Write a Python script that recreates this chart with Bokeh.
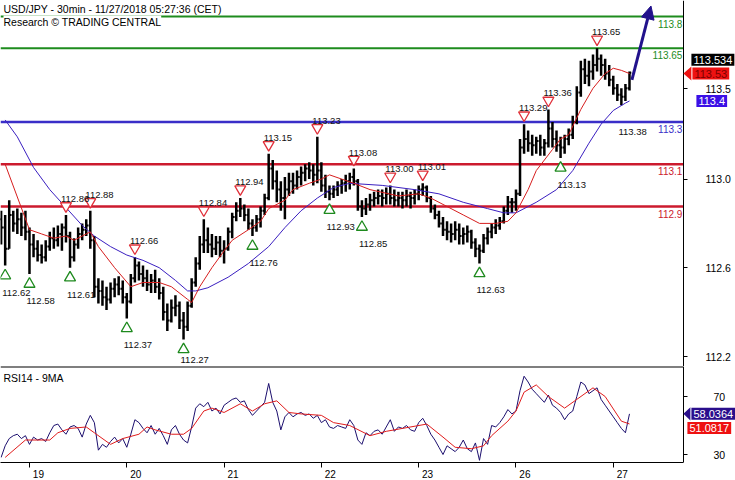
from bokeh.plotting import figure
from bokeh.models import (Range1d, FixedTicker, Label, Arrow, NormalHead, LinearAxis,
                          PolyAnnotation, ColumnDataSource, NumeralTickFormatter)
from bokeh.layouts import column
from bokeh.embed import file_html
from bokeh.resources import INLINE
from bokeh.core.properties import value

# ---------------- data (hourly bars, index 0 = Fri 16 Nov 17:00) ----------------
day_idx = [7, 31, 55, 79, 103, 127, 151]
day_labels = ["19", "20", "21", "22", "23", "26", "27"]

first_open = 112.84
high = [
    112.88, 112.86, 112.93, 112.88, 112.89, 112.87, 112.88, 112.80, 112.77, 112.74,
    112.72, 112.74, 112.78, 112.80, 112.81, 112.82, 112.86, 112.78, 112.75, 112.80,
    112.82, 112.84, 112.88, 112.76, 112.56, 112.55, 112.52, 112.54, 112.56, 112.57,
    112.55, 112.49, 112.58, 112.66, 112.64, 112.62, 112.60, 112.58, 112.60, 112.56,
    112.52, 112.44, 112.46, 112.48, 112.45, 112.40, 112.45, 112.56, 112.66, 112.76,
    112.84, 112.80, 112.77, 112.76, 112.76, 112.74, 112.80, 112.87, 112.92, 112.94,
    112.91, 112.89, 112.84, 112.86, 112.90, 112.96, 113.15, 113.12, 113.07, 113.02,
    113.04, 113.06, 113.06, 113.07, 113.09, 113.10, 113.11, 113.10, 113.23, 113.11,
    113.05, 113.00, 113.00, 113.02, 113.03, 113.05, 113.06, 113.08, 113.03, 112.93,
    112.94, 112.96, 112.97, 112.98, 112.98, 112.99, 113.00, 112.98, 112.97, 112.97,
    112.98, 112.97, 112.98, 113.00, 113.01, 113.00, 112.95, 112.91, 112.88, 112.85,
    112.83, 112.82, 112.83, 112.82, 112.80, 112.81, 112.79, 112.75, 112.72, 112.77,
    112.80, 112.82, 112.84, 112.85, 112.90, 112.95, 112.94, 112.98, 113.22, 113.29,
    113.26, 113.24, 113.23, 113.24, 113.22, 113.36, 113.30, 113.26, 113.23, 113.24,
    113.27, 113.33, 113.47, 113.59, 113.60, 113.59, 113.62, 113.65, 113.62, 113.60,
    113.57, 113.52, 113.48, 113.46, 113.48, 113.54]
low = [
    112.72, 112.62, 112.70, 112.78, 112.77, 112.76, 112.74, 112.58, 112.66, 112.64,
    112.63, 112.64, 112.69, 112.70, 112.71, 112.69, 112.73, 112.61, 112.64, 112.70,
    112.74, 112.76, 112.70, 112.47, 112.44, 112.43, 112.41, 112.44, 112.47, 112.48,
    112.44, 112.37, 112.44, 112.54, 112.55, 112.52, 112.50, 112.49, 112.49, 112.46,
    112.36, 112.31, 112.35, 112.38, 112.32, 112.27, 112.31, 112.42, 112.52, 112.60,
    112.68, 112.68, 112.66, 112.67, 112.66, 112.63, 112.69, 112.75, 112.83, 112.85,
    112.83, 112.79, 112.76, 112.78, 112.80, 112.86, 112.93, 112.98, 112.92, 112.88,
    112.84, 112.95, 112.96, 112.98, 113.00, 113.02, 113.03, 113.00, 113.01, 112.97,
    112.94, 112.93, 112.94, 112.95, 112.96, 112.97, 112.98, 113.00, 112.88, 112.85,
    112.86, 112.88, 112.90, 112.91, 112.90, 112.91, 112.91, 112.90, 112.90, 112.89,
    112.90, 112.89, 112.91, 112.93, 112.95, 112.92, 112.87, 112.84, 112.80, 112.76,
    112.74, 112.73, 112.74, 112.72, 112.72, 112.73, 112.70, 112.66, 112.63, 112.68,
    112.72, 112.75, 112.77, 112.79, 112.82, 112.86, 112.87, 112.88, 112.95, 113.15,
    113.16, 113.14, 113.15, 113.14, 113.14, 113.18, 113.18, 113.16, 113.13, 113.15,
    113.19, 113.22, 113.29, 113.42, 113.48, 113.47, 113.50, 113.54, 113.52, 113.50,
    113.47, 113.43, 113.40, 113.38, 113.40, 113.45]
close = [
    112.80, 112.70, 112.86, 112.82, 112.84, 112.80, 112.78, 112.72, 112.70, 112.67,
    112.66, 112.71, 112.75, 112.74, 112.77, 112.80, 112.76, 112.66, 112.72, 112.77,
    112.79, 112.81, 112.74, 112.52, 112.50, 112.47, 112.46, 112.51, 112.53, 112.51,
    112.47, 112.45, 112.56, 112.62, 112.58, 112.56, 112.53, 112.55, 112.52, 112.49,
    112.40, 112.36, 112.42, 112.43, 112.36, 112.33, 112.43, 112.54, 112.63, 112.72,
    112.74, 112.72, 112.70, 112.73, 112.69, 112.70, 112.78, 112.85, 112.88, 112.89,
    112.86, 112.82, 112.80, 112.84, 112.88, 112.94, 113.08, 113.02, 112.98, 112.94,
    112.98, 113.02, 113.00, 113.04, 113.06, 113.08, 113.07, 113.05, 113.07, 113.00,
    112.97, 112.96, 112.98, 113.00, 113.01, 113.02, 113.04, 113.02, 112.90, 112.89,
    112.91, 112.93, 112.94, 112.95, 112.94, 112.96, 112.94, 112.93, 112.94, 112.93,
    112.95, 112.94, 112.96, 112.98, 112.99, 112.94, 112.89, 112.86, 112.82, 112.79,
    112.78, 112.77, 112.79, 112.76, 112.77, 112.78, 112.73, 112.70, 112.69, 112.75,
    112.78, 112.80, 112.81, 112.83, 112.88, 112.92, 112.92, 112.96, 113.18, 113.22,
    113.20, 113.19, 113.21, 113.18, 113.20, 113.27, 113.22, 113.19, 113.18, 113.22,
    113.24, 113.30, 113.44, 113.55, 113.52, 113.54, 113.57, 113.60, 113.57, 113.53,
    113.50, 113.46, 113.43, 113.42, 113.46, 113.534]

# moving averages (index, value)
ma_fast_idx = [1, 7, 10, 13, 16, 18, 22, 24, 28, 32, 35, 39, 42, 46, 47, 49, 52, 55, 57, 61,
               64, 66, 70, 72, 76, 79, 81, 87, 91, 98, 103, 106, 110, 114, 118, 122, 125, 127,
               130, 132, 136, 138, 140, 143, 146, 149, 151, 153, 155]
ma_fast_val = [113.10, 112.79, 112.77, 112.75, 112.76, 112.74, 112.78, 112.71, 112.61, 112.52,
               112.54, 112.54, 112.52, 112.46, 112.445, 112.52, 112.61, 112.69, 112.74, 112.79,
               112.83, 112.89, 112.93, 112.98, 113.01, 113.03, 113.05, 113.01, 112.98, 112.95,
               112.96, 112.94, 112.90, 112.86, 112.82, 112.82, 112.83, 112.87, 112.98, 113.07,
               113.17, 113.22, 113.24, 113.36, 113.46, 113.53, 113.555, 113.545, 113.53]
ma_slow_idx = [1, 4, 8, 12, 16, 20, 23, 27, 31, 35, 39, 43, 46, 48, 51, 56, 61, 66, 70, 74,
               78, 82, 86, 94, 102, 108, 114, 120, 124, 127, 132, 137, 141, 145, 148, 151, 154, 155]
ma_slow_val = [113.31, 113.23, 113.085, 112.98, 112.895, 112.81, 112.76, 112.71, 112.67, 112.645,
               112.61, 112.55, 112.50, 112.50, 112.515, 112.565, 112.63, 112.71, 112.80, 112.88,
               112.94, 112.99, 113.01, 113.00, 112.98, 112.96, 112.92, 112.89, 112.87, 112.87,
               112.92, 112.98, 113.07, 113.20, 113.29, 113.355, 113.39, 113.40]

rsi = [
    28, 36, 41, 43, 44, 41, 43, 37, 42, 40,
    41, 39, 45, 50, 51, 47, 44, 49, 50, 48,
    42, 51, 57, 52, 33, 37, 35, 39, 42, 38,
    41, 35, 44, 54, 52, 48, 45, 50, 44, 48,
    43, 37, 47, 50, 44, 40, 38, 49, 62, 65,
    63, 66, 60, 62, 58, 64, 66, 68, 69, 66,
    67, 61, 57, 60, 63, 66, 79, 66, 60, 47,
    56, 59, 56, 58, 59, 57, 58, 55, 57, 52,
    54, 49, 48, 50, 49, 48, 54, 50, 40, 37,
    45, 43, 46, 47, 44, 49, 54, 46, 49, 48,
    50, 47, 46, 52, 55, 50, 44, 40, 35, 30,
    36, 34, 32, 35, 40, 34, 32, 38, 26, 41,
    37, 50, 49, 52, 56, 61, 58, 60, 74, 84,
    80, 75, 72, 69, 66, 71, 64, 62, 59, 54,
    58, 60, 70, 80, 78, 72, 74, 76, 68, 64,
    60, 56, 52, 48, 45, 58.0364]
rsi_ma_idx = [1, 6, 12, 14, 17, 21, 23, 27, 30, 34, 36, 38, 42, 45, 47, 50, 52, 55, 59, 62,
              65, 68, 71, 74, 79, 82, 86, 91, 95, 99, 105, 109, 112, 116, 119, 121, 125, 127,
              129, 132, 135, 139, 142, 146, 149, 153, 155]
rsi_ma_val = [28, 40, 40, 45, 48, 49, 45, 37, 41, 44, 49, 47, 44, 44, 48, 60, 62, 59, 65, 60,
              65, 67, 59, 58, 57, 52, 50, 43, 46, 48, 51, 42, 35, 34, 36, 43, 53, 60,
              73, 78, 70, 62, 68, 76, 70, 53, 51.0817]

hi_idx = [16, 22, 33, 50, 59, 66, 78, 87, 96, 104, 129, 135, 147]
hi_val = [112.86, 112.88, 112.66, 112.84, 112.94, 113.15, 113.23, 113.08, 113.00, 113.01,
          113.29, 113.36, 113.65]
lo_idx = [1, 7, 17, 31, 45, 62, 81, 89, 118, 138]
lo_val = [112.62, 112.58, 112.61, 112.37, 112.27, 112.76, 112.93, 112.85, 112.63, 113.13]
swing_low_idx = [153]
swing_low_val = [113.38]

levels = [113.8, 113.65, 113.3, 113.1, 112.9]
level_text = ["113.8", "113.65", "113.3", "113.1", "112.9"]
# price-scale ticks sit at fixed pixel steps; values shown rounded to 0.1
price_ticks = [112.188, 112.61, 113.03, 113.458]
rsi_ticks = [30, 70]

last_close = 113.534
last_fast = 113.53
last_slow = 113.4
last_rsi = 58.0364
last_rsi_ma = 51.0817
arrow_start = (155.6, 113.50)
arrow_end = (160.3, 113.85)

# ---------------- styling ----------------
FONT = "Liberation Sans"
GREEN = "#1e8c1e"
BLUE_LVL = "#3a2ec8"
RED_LVL = "#cc1a2e"
RED_MA = "#d61e1e"
BLUE_MA = "#3a1fc0"
ARROW_C = "#22128c"
RSI_C = "#1c0f6e"
RSI_MA_C = "#e01c1c"
MARK_RED = "#e0303a"
MARK_GREEN = "#1e8a1e"

W = 735
H_MAIN = 366
H_RSI = 114
RSI_BOTTOM = 14
X0, X1 = -0.15, 181.15      # frame spans the whole width
AX = 168.3                  # price scale position
Y0, Y1 = 112.142, 113.876
R0, R1 = 24.5, 90.7

pxu = (X1 - X0) / W
pyu = (Y1 - Y0) / H_MAIN
ryu = (R1 - R0) / (H_RSI - RSI_BOTTOM)


def style_axis(a, standoff):
    a.major_label_text_font = FONT
    a.major_label_text_font_size = "10.5px"
    a.major_label_text_color = "black"
    a.major_tick_out = 4
    a.major_tick_in = 0
    a.minor_tick_line_color = None
    a.major_label_standoff = standoff
    a.axis_line_color = "black"
    a.major_tick_line_color = "black"


p = figure(width=W, height=H_MAIN, x_range=Range1d(X0, X1), y_range=Range1d(Y0, Y1),
           y_axis_location=None, x_axis_location=None, toolbar_location=None,
           output_backend="svg", min_border_left=0, min_border_right=0,
           min_border_top=0, min_border_bottom=0)
p.outline_line_color = None
p.grid.visible = False
p.background_fill_color = "white"
p.border_fill_color = "white"

ax = LinearAxis(fixed_location=AX, ticker=FixedTicker(ticks=price_ticks),
                formatter=NumeralTickFormatter(format="0.0"))
style_axis(ax, 18)
p.add_layout(ax, "right")

# level lines
lvl_colors = [GREEN, GREEN, BLUE_LVL, RED_LVL, RED_LVL]
lvl_widths = [2, 2, 2.5, 2.5, 2.5]
lsrc = ColumnDataSource(dict(y=levels, c=lvl_colors, w=lvl_widths, t=level_text,
                             x0=[X0] * len(levels), x1=[AX] * len(levels)))
p.segment(x0="x0", y0="y", x1="x1", y1="y", line_color="c", line_width="w", source=lsrc)
p.text(x="x1", y="y", text="t", text_color="c", source=lsrc, text_align="right",
       text_baseline="top", x_offset=-1, y_offset=3,
       text_font=value(FONT), text_font_size="10px")

# OHLC bars
idx = list(range(len(close)))
opens = [first_open] + close[:-1]
bsrc = ColumnDataSource(dict(x=idx, h=high, l=low, o=opens, c=close,
                             xl=[i - 0.45 for i in idx], xr=[i + 0.45 for i in idx]))
p.segment(x0="x", y0="l", x1="x", y1="h", source=bsrc, line_color="black", line_width=2.5)
p.segment(x0="xl", y0="o", x1="x", y1="o", source=bsrc, line_color="black", line_width=2)
p.segment(x0="x", y0="c", x1="xr", y1="c", source=bsrc, line_color="black", line_width=2)

# moving averages
p.line(ma_slow_idx, ma_slow_val, line_color=BLUE_MA, line_width=1)
p.line(ma_fast_idx, ma_fast_val, line_color=RED_MA, line_width=1)

# swing markers
p.scatter(hi_idx, [v + 9 * pyu for v in hi_val], marker="inverted_triangle", size=11,
          line_color=MARK_RED, fill_color="white", line_width=1.3)
p.scatter(lo_idx, [v - 10 * pyu for v in lo_val], marker="triangle", size=11,
          line_color=MARK_GREEN, fill_color="white", line_width=1.3)
p.text(hi_idx, hi_val, text=["%.2f" % v for v in hi_val], text_align="left",
       text_baseline="alphabetic", x_offset=-5, y_offset=-16, text_color="#111111",
       text_font=value(FONT), text_font_size="9.5px")
lo_all_idx = lo_idx + swing_low_idx
lo_all_val = lo_val + swing_low_val
lo_dy = [21 if v == min(lo_all_val) else 27 for v in lo_all_val]  # lowest label kept inside panel
p.text(x=lo_all_idx, y=lo_all_val, text=["%.2f" % v for v in lo_all_val], y_offset=lo_dy,
       text_align="left", text_baseline="alphabetic", x_offset=-3, text_color="#111111",
       text_font=value(FONT), text_font_size="9.5px")

# forecast arrow
p.add_layout(Arrow(end=NormalHead(size=13, fill_color=ARROW_C, line_color=ARROW_C),
                   x_start=arrow_start[0], y_start=arrow_start[1],
                   x_end=arrow_end[0], y_end=arrow_end[1],
                   line_color=ARROW_C, line_width=3))

# titles
p.add_layout(Label(x=X0, y=Y1, x_offset=3, y_offset=-2, text_baseline="top",
                   text="USD/JPY - 30min - 11/27/2018 05:27:36 (CET)",
                   text_font=FONT, text_font_size="10.5px", text_color="black"))
p.add_layout(Label(x=X0, y=Y1, x_offset=3, y_offset=-15, text_baseline="top",
                   text="Research \u00a9 TRADING CENTRAL", background_fill_color="white",
                   text_font=FONT, text_font_size="10.5px", text_color="black"))


# right-hand value boxes
def box(fig, yv, txt, bg, fg, xoff, yoff=0, pointer=False, yunit=pyu):
    fig.add_layout(Label(x=AX, y=yv, x_offset=xoff, y_offset=yoff, text=txt,
                         text_align="left", text_baseline="middle",
                         background_fill_color=bg, text_color=fg, padding=2,
                         text_font=FONT, text_font_size="11px"))
    if pointer:
        yc = yv + yoff * yunit
        fig.add_layout(PolyAnnotation(xs=[AX, AX + (xoff - 1) * pxu, AX + (xoff - 1) * pxu],
                                      ys=[yc, yc + 7 * yunit, yc - 7 * yunit],
                                      fill_color=bg, fill_alpha=1, line_color=None))


box(p, last_close, "113.534", "black", "white", 8, 13)
box(p, last_fast, "113.53", "#ee1111", "#7a0000", 9, 0, pointer=True)
box(p, last_slow, "113.4", "#3b10e6", "white", 13, 0)

# ---------------- RSI panel ----------------
r = figure(width=W, height=H_RSI, x_range=p.x_range, y_range=Range1d(R0, R1),
           y_axis_location=None, x_axis_location=None, toolbar_location=None,
           output_backend="svg", min_border_left=0, min_border_right=0,
           min_border_top=0, min_border_bottom=RSI_BOTTOM)
r.outline_line_color = None
r.grid.visible = False
r.background_fill_color = "white"
r.border_fill_color = "white"

ra = LinearAxis(fixed_location=AX, ticker=FixedTicker(ticks=rsi_ticks))
style_axis(ra, 26)
r.add_layout(ra, "right")

# day labels centred a little after each day start; day starts marked by minor ticks
xa = LinearAxis(ticker=FixedTicker(ticks=[d + 2.2 for d in day_idx], minor_ticks=day_idx),
                bounds=(X0, AX))
xa.major_label_overrides = {d + 2.2: lab for d, lab in zip(day_idx, day_labels)}
style_axis(xa, 2)
xa.major_tick_out = 0
xa.minor_tick_out = 5
xa.minor_tick_in = 0
xa.minor_tick_line_color = "black"
xa.major_label_text_font_size = "10px"
r.add_layout(xa, "below")

r.segment(x0=[X0], y0=[R1], x1=[AX], y1=[R1], line_color="black", line_width=2)
r.line(idx, rsi, line_color=RSI_C, line_width=1)
r.line(rsi_ma_idx, rsi_ma_val, line_color=RSI_MA_C, line_width=1)
r.add_layout(Label(x=X0, y=R1, x_offset=3, y_offset=-5, text_baseline="top",
                   text="RSI14 - 9MA", text_font=FONT, text_font_size="10.5px",
                   text_color="black"))
box(r, last_rsi, "58.0364", "#2a0e8c", "white", 8, 0, pointer=True, yunit=ryu)
box(r, last_rsi_ma, "51.0817", "#ee1111", "white", 4, -4, yunit=ryu)

layout = column(p, r, spacing=0)
open("out.html", "w").write(file_html(layout, INLINE))
